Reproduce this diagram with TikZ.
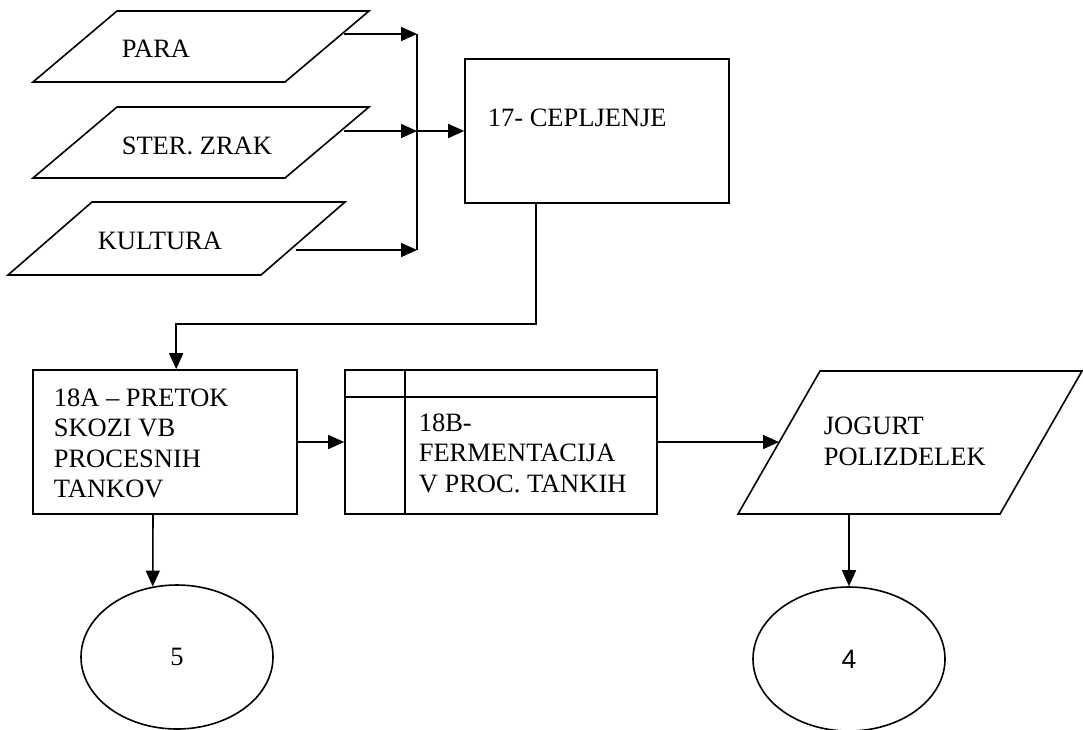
\documentclass[tikz,border=0pt]{standalone}
\usepackage{fontspec}
\setmainfont{Liberation Serif}
\newfontfamily\numsans{Liberation Sans}
\usetikzlibrary{arrows.meta,calc,shapes.geometric}
\begin{document}
\begin{tikzpicture}[x=1pt,y=-1pt,
  line width=1.6pt,
  every node/.style={font=\fontsize{26.5}{30.5}\selectfont},
  flow/.style={-{Triangle[length=16pt,width=14pt]}},
  procbox/.style={draw,rectangle,inner sep=0pt},
  endpoint/.style={draw,ellipse,inner sep=0pt,minimum width=192pt,minimum height=144pt},
  label/.style={anchor=base west,inner sep=0pt,align=left}]
\useasboundingbox (0,0) rectangle (1083,729);

% input data (parallelograms)
\coordinate (pa1) at (117,11);  \coordinate (pa2) at (369,11);
\coordinate (pa3) at (285,82);  \coordinate (pa4) at (33,82);
\coordinate (st1) at (117,107); \coordinate (st2) at (369,107);
\coordinate (st3) at (285,178); \coordinate (st4) at (33,178);
\coordinate (ku1) at (92,202);  \coordinate (ku2) at (345,202);
\coordinate (ku3) at (261,275); \coordinate (ku4) at (8,275);
\draw (pa1) -- (pa2) -- (pa3) -- (pa4) -- cycle;
\draw (st1) -- (st2) -- (st3) -- (st4) -- cycle;
\draw (ku1) -- (ku2) -- (ku3) -- (ku4) -- cycle;
\node[label] (tpara) at (121,57) {PARA};
\node[label] (tster) at (121,154) {STER. ZRAK};
\node[label] (tkult) at (97,249) {KULTURA};

% collecting bus
\coordinate (busT) at (417,34);
\coordinate (busB) at (417,250);
\coordinate (paOut) at (344,34);
\coordinate (stOut) at (344,131);
\coordinate (kuOut) at (296,250);
\draw (busT) -- (busB);
\draw[flow] (paOut) -- (paOut -| busT);
\draw[flow] (stOut) -- (stOut -| busT);
\draw[flow] (kuOut) -- (kuOut -| busT);

% inoculation
\node[procbox,minimum width=264pt,minimum height=144pt] (c17) at (597,131) {};
\node[label] (t17) at (487,126) {17- CEPLJENJE};
\draw[flow] (c17.west -| busT) -- (c17.west);

% flow through process tanks (label anchored on its last baseline)
\node[procbox,minimum width=264pt,minimum height=144pt] (b18a) at (165,442) {};
\node[label] (t18a) at (53,497.5) {18A – PRETOK\\SKOZI VB\\PROCESNIH\\TANKOV};
\coordinate (c17out) at ($(c17.south west)+(72,0)$);
\draw[flow] (c17out) -- ++(0,120) -| ($(b18a.north west)+(144,0)$);

% fermentation
\node[procbox,minimum width=312pt,minimum height=144pt] (b18b) at (501,442) {};
\draw ($(b18b.north west)+(0,28)$) -- ($(b18b.north east)+(0,28)$);
\draw ($(b18b.north west)+(61,0)$) -- ($(b18b.south west)+(61,0)$);
\node[label] (t18b) at (418,492) {18B-\\FERMENTACIJA\\V PROC. TANKIH};
\draw[flow] (b18a.east) -- (b18b.west);

% product
\coordinate (jo1) at (820,371);  \coordinate (jo2) at (1082,371);
\coordinate (jo3) at (1000,514); \coordinate (jo4) at (738,514);
\draw (jo1) -- (jo2) -- (jo3) -- (jo4) -- cycle;
\node[label,font=\fontsize{26.5}{31}\selectfont] (tjog) at (823,465) {JOGURT\\POLIZDELEK};
\coordinate (joIn) at ($(jo4)!0.5!(jo1)$);
\draw[flow] (b18b.east) -- (b18b.east -| joIn);

% connectors to the following sheets
\node[endpoint] (e5) at (177,657) {5};
\node[endpoint,font=\fontsize{26.5}{30.5}\selectfont\numsans] (e4) at (849,659) {4};
\coordinate (aOut) at (153,514);
\draw[flow] (aOut) -- (e5.109);
\coordinate (joOut) at (849,514);
\draw[flow] (joOut) -- (e4.north);
\end{tikzpicture}
\end{document}
